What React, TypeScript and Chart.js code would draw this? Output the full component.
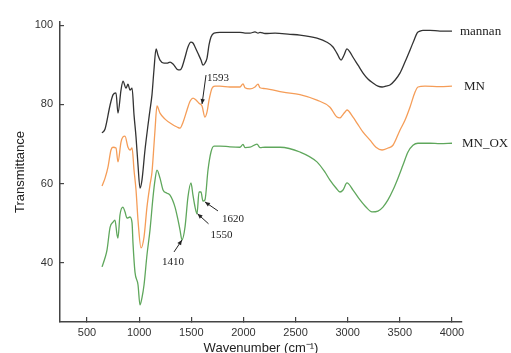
import React, { useEffect, useRef } from "react";
import { Chart, registerables } from "chart.js";

Chart.register(...registerables);

const xTicks = [500, 1000, 1500, 2000, 2500, 3000, 3500, 4000];
const yTicks = [40, 60, 80, 100];

const seriesNames = ["mannan", "MN", "MN_OX"];

const mannanWn = [644,673,721,749,778,797,826,845,874,893,912,932,951,970,989,1008,1027,1056,1085,1104,1123,1142,1162,1181,1200,1238,1267,1296,1325,1363,1392,1411,1440,1468,1497,1516,1536,1564,1593,1612,1631,1651,1670,1689,1718,1775,1871,1967,2015,2063,2111,2140,2159,2207,2303,2447,2542,2705,2801,2859,2897,2936,2964,2993,3022,3051,3099,3147,3194,3242,3290,3329,3367,3405,3453,3501,3549,3597,3636,3665,3693,3722,3789,3885,4000];
const mannanT = [72.8,73.8,79.8,82.4,82.9,77.8,83.6,85.9,84.1,85.1,83.6,84.1,77.3,71.8,64.7,58.9,60.9,68.5,74.8,78.6,82.4,88.7,94.0,92.4,91.2,90.4,90.4,90.7,90.2,88.9,88.7,89.4,91.9,94.5,95.7,95.5,94.5,92.9,91.2,89.9,90.4,91.7,95.0,97.0,98.0,98.2,98.2,98.2,98.0,98.0,98.3,98.0,98.2,97.9,98.0,97.7,97.5,96.7,95.7,94.5,92.9,91.2,92.4,94.0,93.2,91.9,89.9,87.9,86.4,85.4,84.6,84.4,84.6,84.9,86.1,87.9,90.7,93.7,96.2,98.0,98.5,98.7,98.7,98.5,98.5];

const mnWn = [644,673,701,730,749,778,797,826,845,864,893,912,932,951,970,989,1018,1047,1075,1104,1123,1142,1152,1171,1200,1248,1315,1363,1392,1421,1459,1488,1516,1545,1574,1603,1631,1651,1670,1699,1727,1775,1871,1967,1996,2015,2063,2111,2140,2159,2207,2380,2542,2705,2830,2897,2926,2945,2974,2993,3051,3089,3147,3214,3271,3329,3386,3434,3501,3549,3597,3645,3674,3741,3885,4000];
const mnT = [59.4,61.4,64.2,68.5,69.2,69.0,65.5,70.5,71.8,72.0,69.2,68.5,69.0,63.4,58.4,50.8,43.8,46.6,54.1,59.7,62.9,69.7,73.5,79.6,77.8,76.3,75.0,74.3,74.0,75.5,78.6,80.8,81.6,81.1,80.3,79.6,76.8,78.1,81.1,84.1,84.6,84.6,84.4,84.4,85.2,84.2,83.9,84.4,85.1,84.2,84.0,83.1,82.5,81.1,79.3,76.8,76.6,77.1,78.1,78.6,76.8,75.3,73.0,71.0,69.2,68.5,69.0,69.7,73.5,76.0,79.3,83.1,84.4,84.6,84.5,84.6];

const oxWn = [644,673,692,721,749,768,788,797,816,845,864,884,912,932,941,960,989,1008,1027,1047,1075,1104,1133,1152,1171,1200,1229,1267,1296,1344,1373,1392,1411,1440,1468,1497,1516,1536,1555,1574,1593,1612,1631,1660,1689,1718,1775,1871,1967,1996,2015,2063,2130,2159,2207,2351,2542,2705,2782,2830,2888,2926,2955,2993,3051,3118,3175,3233,3290,3338,3386,3434,3482,3530,3578,3626,3674,3789,3885,4000];
const oxT = [39.0,41.3,43.3,49.0,50.3,50.8,47.1,46.3,52.1,54.1,52.9,51.3,51.6,50.1,45.0,37.7,34.5,29.4,31.2,34.5,42.0,48.3,56.6,60.9,63.4,61.4,58.4,57.6,57.1,54.1,50.8,48.3,45.8,49.1,56.6,60.2,57.1,54.1,52.4,57.9,57.9,55.6,55.9,63.4,68.0,69.5,69.5,69.3,69.2,69.9,69.1,69.2,70.0,69.1,69.2,69.2,68.0,65.5,62.9,60.9,58.9,57.9,58.4,60.2,58.4,55.9,54.1,52.9,53.1,54.1,55.9,58.4,61.4,64.7,68.0,69.7,70.2,70.2,70.1,70.2];

// annotated bands: label, series index, wavenumber & transmittance at arrow tip
const bandLabels = ["1593", "1410", "1550", "1620"];
const bandSeries = [1, 2, 2, 2];
const bandWn = [1603, 1411, 1560, 1631];
const bandT = [80.1, 45.8, 52.4, 55.4];

const seriesWn = [mannanWn, mnWn, oxWn];
const seriesT = [mannanT, mnT, oxT];
const colors = ["#333333", "#f59d58", "#5fa75c"];

const SANS = '"Liberation Sans", Arial, sans-serif';
const SERIF = '"Liberation Serif", "Times New Roman", serif';

// layout offsets for annotation (tail dx,dy ; text dx,dy ; align)
const bandLayout: Record<string, { tail: [number, number]; text: [number, number]; align: CanvasTextAlign }> = {
  "1593": { tail: [4, -29], text: [5, -26], align: "left" },
  "1410": { tail: [-8, 12], text: [-9, 22], align: "center" },
  "1550": { tail: [11, 10], text: [24, 21], align: "center" },
  "1620": { tail: [13, 9], text: [28, 17], align: "center" },
};
const endLabelDx = [8, 12, 10];

function drawArrow(ctx: CanvasRenderingContext2D, x0: number, y0: number, x1: number, y1: number) {
  ctx.beginPath();
  ctx.moveTo(x0, y0);
  ctx.lineTo(x1, y1);
  ctx.stroke();
  const a = Math.atan2(y1 - y0, x1 - x0);
  const L = 5, W = 2.2;
  ctx.beginPath();
  ctx.moveTo(x1, y1);
  ctx.lineTo(x1 - L * Math.cos(a) + W * Math.sin(a), y1 - L * Math.sin(a) - W * Math.cos(a));
  ctx.lineTo(x1 - L * Math.cos(a) - W * Math.sin(a), y1 - L * Math.sin(a) + W * Math.cos(a));
  ctx.closePath();
  ctx.fill();
}

const overlay = {
  id: "overlay",
  afterDatasetsDraw(chart: any) {
    const { ctx, scales } = chart;
    const xs = scales.x, ys = scales.y;
    ctx.save();
    ctx.font = `13px ${SERIF}`;
    ctx.fillStyle = "#222";
    ctx.textBaseline = "middle";
    ctx.textAlign = "left";
    seriesNames.forEach((name, i) => {
      const wn = seriesWn[i], t = seriesT[i];
      ctx.fillText(name, xs.getPixelForValue(wn[wn.length - 1]) + endLabelDx[i], ys.getPixelForValue(t[t.length - 1]));
    });
    ctx.font = `11px ${SERIF}`;
    ctx.strokeStyle = "#222";
    ctx.lineWidth = 1;
    bandLabels.forEach((lab, i) => {
      const tx = xs.getPixelForValue(bandWn[i]);
      const ty = ys.getPixelForValue(bandT[i]);
      const L = bandLayout[lab];
      drawArrow(ctx, tx + L.tail[0], ty + L.tail[1], tx, ty);
      ctx.textAlign = L.align;
      ctx.fillText(lab, tx + L.text[0], ty + L.text[1]);
    });
    ctx.restore();
  },
};

export default function App() {
  const ref = useRef<HTMLCanvasElement>(null);
  useEffect(() => {
    const datasets = seriesNames.map((name, i) => ({
      label: name,
      data: seriesWn[i].map((w, k) => ({ x: w, y: seriesT[i][k] })),
      borderColor: colors[i],
      backgroundColor: colors[i],
      borderWidth: 1.3,
      pointRadius: 0,
      cubicInterpolationMode: "monotone" as const,
      fill: false,
    }));
    const chart = new Chart(ref.current!, {
      type: "line",
      data: { datasets },
      options: {
        animation: false,
        responsive: false,
        devicePixelRatio: 1,
        layout: { padding: { top: 22, right: 49, left: 0, bottom: 0 } },
        plugins: { legend: { display: false }, tooltip: { enabled: false } },
        scales: {
          x: {
            type: "linear",
            min: 241,
            max: 4096,
            afterBuildTicks: (s: any) => { s.ticks = xTicks.map((v) => ({ value: v })); },
            afterFit: (s: any) => { s.height = 31; },
            grid: { drawOnChartArea: false, drawTicks: true, tickLength: -5, color: "#444", lineWidth: 1.2 },
            border: { display: true, color: "#444", width: 1.5 },
            ticks: { padding: 9.4, color: "#333", font: { size: 11, family: SANS }, maxRotation: 0, autoSkip: false, callback: (v: any) => String(v) },
            title: { display: true, text: "Wavenumber (cm⁻¹)", color: "#222", font: { size: 13, family: SANS, lineHeight: 1 }, padding: { top: 0, bottom: -1.5 } },
          },
          y: {
            type: "linear",
            min: 25.1,
            max: 100.8,
            afterBuildTicks: (s: any) => { s.ticks = yTicks.map((v) => ({ value: v })); },
            afterFit: (s: any) => { s.width = 60; },
            grid: { drawOnChartArea: false, drawTicks: true, tickLength: -4, color: "#444", lineWidth: 1.2 },
            border: { display: true, color: "#444", width: 1.5 },
            ticks: { padding: 11, color: "#333", font: { size: 11, family: SANS }, callback: (v: any) => String(v) },
            title: { display: true, text: "Transmittance", color: "#222", font: { size: 13, family: SANS, lineHeight: 1 }, padding: { top: 13.5, bottom: 0 } },
          },
        },
      } as any,
      plugins: [overlay],
    });
    return () => chart.destroy();
  }, []);
  return (
    <div style={{ position: "absolute", left: 0, top: 0, width: 511, height: 353 }}>
      <canvas ref={ref} width={511} height={353} style={{ display: "block" }} />
    </div>
  );
}
